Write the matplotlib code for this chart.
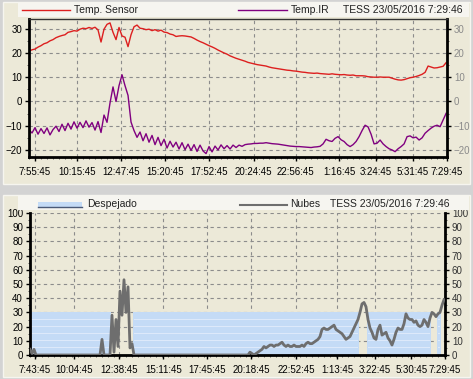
import numpy as np
import matplotlib
matplotlib.use('Agg')
import matplotlib.pyplot as plt
from matplotlib.patches import Rectangle
from matplotlib.lines import Line2D
from matplotlib.ticker import MultipleLocator

# ----- Top panel: temperatures (C), one value per sample ----- #
temp_sensor = [
    20.8, 21.3, 21.6, 22.4, 23.0, 23.8, 24.2, 25.0, 25.5, 26.3,
    26.8, 27.2, 27.5, 28.5, 28.8, 29.2, 29.0, 29.8, 30.2, 30.0,
    30.5, 30.1, 30.6, 29.5, 24.5, 29.8, 31.8, 32.4, 28.5, 25.5,
    30.5, 27.0, 26.5, 22.6, 27.5, 30.8, 31.5, 30.2, 30.0, 29.6,
    29.8, 29.2, 29.6, 29.0, 29.4, 28.6, 28.4, 27.8, 27.5, 26.8,
    27.0, 27.1, 27.0, 26.8, 26.6, 26.0, 25.3, 24.7, 24.2, 23.6,
    23.0, 22.5, 21.9, 21.2, 20.6, 20.0, 19.5, 18.8, 18.3, 17.8,
    17.4, 17.0, 16.6, 16.1, 15.8, 15.5, 15.2, 15.0, 14.8, 14.6,
    14.2, 13.9, 13.7, 13.5, 13.3, 13.1, 12.9, 12.8, 12.6, 12.5,
    12.3, 12.1, 12.0, 11.8, 11.7, 11.6, 11.7, 11.5, 11.4, 11.3,
    11.2, 11.4, 11.2, 11.1, 11.0, 11.1, 10.9, 10.8, 10.9, 10.6,
    10.6, 10.6, 10.5, 10.2, 10.1, 10.0, 10.0, 10.1, 10.0, 10.0,
    10.0, 9.6, 9.2, 8.9, 8.8, 9.0, 9.4, 9.8, 10.0, 10.3,
    10.7, 11.2, 12.0, 14.6, 14.2, 13.8, 13.9, 14.2, 14.5, 16.0,
]
temp_ir = [
    -11.7, -13.0, -10.8, -13.5, -11.2, -13.2, -10.9, -13.8, -11.6, -10.2,
    -12.4, -9.4, -12.0, -9.0, -11.4, -8.4, -11.0, -8.6, -10.8, -8.0,
    -10.6, -8.7, -11.8, -8.3, -12.8, -5.6, -8.6, -0.6, 6.0, 0.0,
    6.5, 11.0, 6.5, 2.5, -8.5, -12.0, -14.8, -12.6, -16.2, -13.3,
    -16.8, -14.0, -17.8, -14.8, -18.2, -15.6, -19.2, -16.4, -18.8, -16.8,
    -19.6, -17.0, -19.9, -17.6, -20.2, -17.8, -20.6, -18.0, -20.4, -21.5,
    -18.6, -20.8, -18.4, -20.0, -17.9, -19.5, -18.2, -19.6, -18.0, -19.0,
    -18.0, -18.5, -17.8, -17.6, -17.5, -17.3, -17.3, -17.2, -17.2, -17.0,
    -17.2, -17.4, -17.5, -17.6, -17.8, -18.0, -18.2, -18.4, -18.5, -18.6,
    -18.6, -18.7, -18.8, -18.9, -19.0, -18.8, -18.7, -18.5, -17.5, -15.6,
    -16.2, -16.5, -15.2, -14.5, -15.8, -16.5, -17.8, -18.6, -17.8, -16.5,
    -14.5, -12.0, -9.8, -10.5, -13.5, -17.5, -17.2, -15.9, -17.5, -18.6,
    -19.5, -20.0, -20.7, -19.5, -18.6, -17.5, -14.5, -14.2, -15.0, -14.7,
    -15.9, -15.0, -13.1, -12.0, -11.0, -10.2, -9.8, -10.4, -7.6, -4.9,
]
top_tick_pos = [2, 15.9, 30.6, 45.3, 60.1, 74.9, 88.9, 103.3, 115.6, 128, 139.3]
top_tick_labels = ['7:55:45', '10:15:45', '12:47:45', '15:20:45', '17:52:45', '20:24:45',
                   '22:56:45', '1:16:45', '3:24:45', '5:31:45', '7:29:45']

# ----- Bottom panel: cloud index and clear-sky band ----- #
nubes = [
    4, 1, 4, 0, 0, 0, 0, 0, 0, 0, 0, 0, 0, 0, 0, 0, 0, 0, 0, 0,
    0, 0, 0, 0, 0, 0, 0, 0, 0, 0, 0, 0, 0, 0, 0, 0, 11, 0, 0, 0,
    0, 28, 2, 25, 6, 45, 28, 53, 30, 48, 5, 8, 0, 0, 0, 0, 0, 0, 0, 0,
    0, 0, 0, 0, 0, 0, 0, 0, 0, 0, 0, 0, 0, 0, 0, 0, 0, 0, 0, 0,
    0, 0, 0, 0, 0, 0, 0, 0, 0, 0, 0, 0, 0, 0, 0, 0, 0, 0, 0, 0,
    0, 0, 0, 0, 0, 0, 0, 0, 0, 0, 2, 1, 0, 1, 2, 3, 4, 6, 5, 6,
    7, 7, 6, 7, 7, 8, 9, 7, 6, 7, 6, 6, 7, 6, 6, 6, 7, 6, 8, 9,
    8, 8, 9, 10, 11, 13, 18, 19, 18, 18, 19, 20, 21, 18, 17, 16, 15, 13, 11, 12,
    13, 16, 19, 22, 25, 30, 36, 37, 34, 25, 19, 16, 12, 11, 18, 21, 14, 15, 16, 12,
    10, 7, 11, 16, 19, 18, 18, 22, 29, 26, 25, 25, 23, 24, 21, 20, 21, 25, 23, 20,
    26, 30, 29, 27, 29, 30, 35, 39,
]
despejado = [
    30, 30, 30, 30, 30, 30, 30, 30, 30, 30, 30, 30, 30, 30, 30, 30, 30, 30, 30, 30,
    30, 30, 30, 30, 30, 30, 30, 30, 30, 30, 30, 30, 30, 30, 30, 30, 30, 30, 30, 30,
    30, 0, 0, 0, 0, 0, 0, 0, 0, 0, 0, 0, 30, 30, 30, 30, 30, 30, 30, 30,
    30, 30, 30, 30, 30, 30, 30, 30, 30, 30, 30, 30, 30, 30, 30, 30, 30, 30, 30, 30,
    30, 30, 30, 30, 30, 30, 30, 30, 30, 30, 30, 30, 30, 30, 30, 30, 30, 30, 30, 30,
    30, 30, 30, 30, 30, 30, 30, 30, 30, 30, 30, 30, 30, 30, 30, 30, 30, 30, 30, 30,
    30, 30, 30, 30, 30, 30, 30, 30, 30, 30, 30, 30, 30, 30, 30, 30, 30, 30, 30, 30,
    30, 30, 30, 30, 30, 30, 30, 30, 30, 30, 30, 30, 30, 30, 30, 30, 30, 30, 30, 30,
    30, 30, 30, 30, 30, 0, 0, 0, 0, 30, 30, 30, 30, 30, 30, 30, 30, 30, 30, 30,
    30, 30, 30, 30, 30, 30, 30, 30, 30, 30, 30, 30, 30, 30, 30, 30, 30, 30, 30, 30,
    30, 0, 0, 0, 30, 30, 0, 0,
]
bottom_tick_pos = [2.5, 22, 44.5, 66.7, 88.7, 110.7, 133.2, 153.5, 172.4, 190.7, 207.4]
bottom_tick_labels = ['7:43:45', '10:04:45', '12:38:45', '15:11:45', '17:45:45', '20:18:45',
                      '22:52:45', '1:13:45', '3:22:45', '5:30:45', '7:29:45']

stamp = 'TESS 23/05/2016 7:29:46'

# ----- Figure stuff ----- #
plt.rcParams['font.family'] = 'Liberation Sans'
plt.rcParams['font.size'] = 7

W, H = 473, 379
BEIGE = '#ece9d8'
GRID = '#8c8c8c'

def fx(px):
    return px / W

def fy(py):
    return 1 - py / H

fig = plt.figure(figsize=(W / 100, H / 100), dpi=100)
fig.patch.set_facecolor('#d3d3d3')

# panel backgrounds and legend strips
for top, bot in [(2, 184), (195, 377)]:
    fig.add_artist(Rectangle((fx(3), fy(bot)), fx(467), (bot - top) / H, transform=fig.transFigure,
                             facecolor=BEIGE, edgecolor='#f6f5ef', lw=1, zorder=0))
for top in [3, 196]:
    fig.add_artist(Rectangle((fx(18), fy(top + 14)), fx(451), 14 / H, transform=fig.transFigure,
                             facecolor='#f6f5f0', edgecolor='none', zorder=0.5))

def legend_line(x0, x1, py, color, lw=1):
    fig.add_artist(Line2D([fx(x0), fx(x1)], [fy(py), fy(py)], transform=fig.transFigure,
                          color=color, lw=lw))

def legend_text(px, py, s):
    fig.text(fx(px), fy(py), s, ha='left', va='center', fontsize=7.5, color='#222222')

legend_line(22, 70, 10, '#dd1f1f')
legend_text(74, 10, 'Temp. Sensor')
legend_line(238, 287, 10, '#800080')
legend_text(291, 10, 'Temp.IR')
legend_text(343, 10, stamp)

fig.add_artist(Rectangle((fx(38), fy(207)), fx(44), 5 / H, transform=fig.transFigure,
                         facecolor='#c4dbf6', edgecolor='none'))
legend_line(38, 82, 207, '#4a5a78')
legend_text(87, 204, 'Despejado')
legend_line(240, 287, 205, '#6e6e6e', lw=1.5)
legend_text(290, 204, 'Nubes')
legend_text(330, 204, stamp)

def style_axes(ax, ticks, labels, right_color):
    ax.set_facecolor(BEIGE)
    ax.set_axisbelow(True)
    ax.grid(True, ls=(0, (3, 3)), color=GRID, lw=0.8)
    for side in ['left', 'bottom', 'right']:
        ax.spines[side].set_linewidth(2)
        ax.spines[side].set_color('black')
    ax.spines['top'].set_visible(False)
    ax.set_xticks(ticks)
    ax.set_xticklabels(labels)
    ax.tick_params(axis='both', which='major', length=3, width=1, pad=2, color='black', labelsize=7)
    ax.tick_params(axis='both', which='minor', length=1.5, width=0.6, color='#444444')
    ax.tick_params(axis='y', right=True, labelright=True, which='both')
    ax.tick_params(axis='x', pad=4)
    for t in ax.yaxis.get_major_ticks():
        t.label2.set_color(right_color)

# top: temperatures
ax1 = fig.add_axes([fx(29), fy(157), fx(418), 138 / H])
xt = np.linspace(0, 139, len(temp_sensor))
ax1.plot(xt, temp_sensor, color='#dd1f1f', lw=1)
ax1.plot(xt, temp_ir, color='#800080', lw=1)
ax1.set_xlim(0, 139.3)
ax1.set_ylim(-22.9, 34)
ax1.set_yticks([-20, -10, 0, 10, 20, 30])
ax1.yaxis.set_minor_locator(MultipleLocator(5))
ax1.xaxis.set_minor_locator(MultipleLocator(2))
style_axes(ax1, top_tick_pos, top_tick_labels, '#8a8a8a')
ax1.spines['top'].set_visible(True)
ax1.spines['top'].set_linewidth(1)
ax1.spines['top'].set_color('#333333')

# bottom: clouds
ax2 = fig.add_axes([fx(30), fy(355), fx(415), 142 / H])
xb = np.arange(len(nubes))
desp = np.array(despejado)
ax2.fill_between(xb, 0, desp, step='mid', facecolor='#c4dbf6', lw=0, zorder=1)
for lev in [5, 10, 15, 20, 25]:
    ax2.fill_between(xb, lev - 0.35, lev + 0.35, where=desp > 0, step='mid',
                     facecolor='#dde9fa', lw=0, zorder=1.5)
ax2.plot(xb, nubes, color='#6e6e6e', lw=2, zorder=3)
ax2.set_xlim(0, 207.5)
ax2.set_ylim(0, 100)
ax2.set_yticks(np.arange(0, 101, 10))
ax2.yaxis.set_minor_locator(MultipleLocator(5))
ax2.xaxis.set_minor_locator(MultipleLocator(3))
style_axes(ax2, bottom_tick_pos, bottom_tick_labels, '#333333')

fig.savefig('out.png', dpi=100, facecolor=fig.get_facecolor())
